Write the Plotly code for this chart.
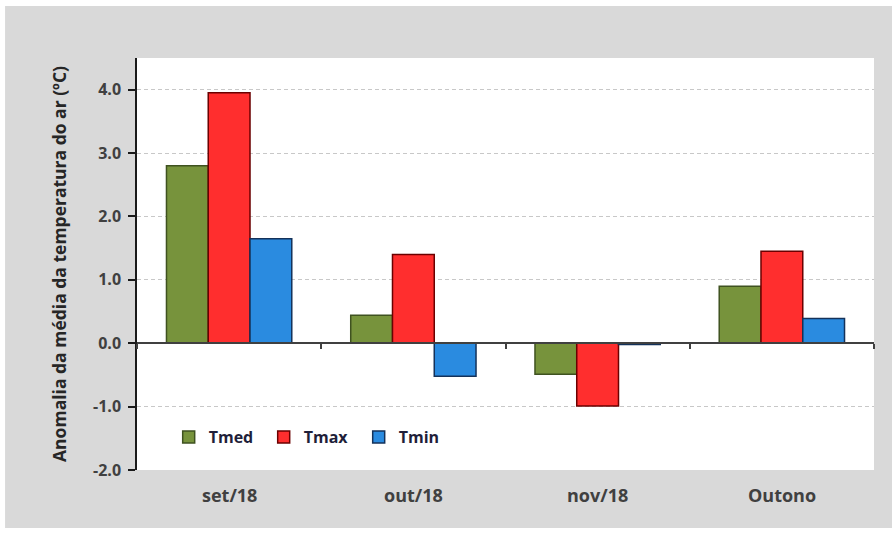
import plotly.graph_objects as go

categories = ["set/18", "out/18", "nov/18", "Outono"]
tmed = [2.8, 0.44, -0.49, 0.9]
tmax = [3.95, 1.4, -0.99, 1.45]
tmin = [1.65, -0.52, -0.02, 0.39]
series_names = ["Tmed", "Tmax", "Tmin"]
y_tick_values = [-2, -1, 0, 1, 2, 3, 4]
y_tick_labels = ["-2.0", "-1.0", "0.0", "1.0", "2.0", "3.0", "4.0"]
y_title = "Anomalia da média da temperatura do ar (ºC)"

fill_colors = ["#77933C", "#FF2E2E", "#2A8BE0"]
line_colors = ["#3F5220", "#6B0000", "#14325A"]

fig = go.Figure()
for name, vals, fc, lc in zip(series_names, [tmed, tmax, tmin], fill_colors, line_colors):
    fig.add_trace(go.Bar(
        x=categories, y=vals, name=name,
        marker=dict(color=fc, line=dict(color=lc, width=1.5)),
    ))

for i, c in enumerate(categories):
    fig.add_annotation(x=c, xref="x", y=0, yref="paper", yshift=-39,
                       text=c, showarrow=False,
                       font=dict(family="Open Sans", size=18, color="#404040", weight="bold"))

fig.update_layout(
    width=896, height=533,
    margin=dict(l=137, r=22, t=58, b=63),
    paper_bgcolor="white",
    plot_bgcolor="rgba(0,0,0,0)",
    barmode="group",
    bargap=0.32,
    bargroupgap=0,
    shapes=[
        dict(type="rect", xref="paper", yref="paper", x0=-0.179, x1=1.0244, y0=-0.141, y1=1.126,
             fillcolor="#D9D9D9", line=dict(width=0), layer="below"),
        dict(type="rect", xref="paper", yref="paper", x0=0, x1=1, y0=0, y1=1,
             fillcolor="white", line=dict(width=0), layer="below"),
    ],
    xaxis=dict(
        type="category", categoryorder="array", categoryarray=categories,
        range=[-0.5, 3.5],
        anchor="free", position=2 / 6.5,
        showline=True, linecolor="#404040", linewidth=1.5,
        ticks="outside", tickson="boundaries", ticklen=5, tickcolor="#404040", tickwidth=1.5,
        showticklabels=False, showgrid=False, zeroline=False,
    ),
    yaxis=dict(
        range=[-2, 4.5], tickmode="array", tickvals=y_tick_values, ticktext=y_tick_labels,
        showline=True, linecolor="#1a1a1a", linewidth=1.5,
        ticks="outside", ticklen=7, tickcolor="#1a1a1a", tickwidth=1.5,
        ticklabelstandoff=4,
        showgrid=True, gridcolor="#C8C8C8", griddash="4px,3px", gridwidth=1,
        zeroline=False,
        tickfont=dict(family="Open Sans", size=16, color="#404040", weight="bold"),
        title=dict(text=y_title, standoff=22,
                   font=dict(family="Open Sans", size=17.5, color="#262626", weight="bold")),
    ),
    legend=dict(
        orientation="h", x=0.043, y=0.08, xanchor="left", yanchor="middle",
        bgcolor="rgba(0,0,0,0)",
        font=dict(family="Open Sans", size=16, color="#1F1F3A", weight="bold"),
        itemwidth=30, entrywidth=50, traceorder="normal",
    ),
    showlegend=True,
)

fig.write_html("out.html", post_script="document.body.style.margin='0';",
               config={"displayModeBar": False})
